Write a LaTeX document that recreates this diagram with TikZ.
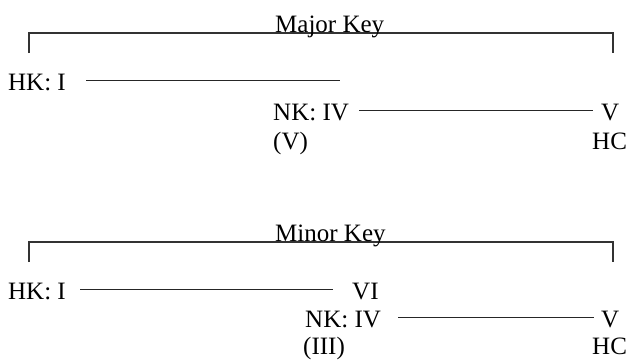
\documentclass[tikz,border=0pt]{standalone}
\usepackage{fontspec}
\setmainfont{Liberation Serif}
\usepackage{tikz}
\newcommand{\lift}{9.5pt}
\newcommand{\ticklen}{20}

\begin{document}
\begin{tikzpicture}[x=1pt,y=-1pt,
        lbl/.style={font=\fontsize{25}{30}\selectfont, inner sep=0pt, anchor=base west},
        bar/.style={line width=1.2pt, black!85},
        brk/.style={line width=1.6pt, black!80}]
    \useasboundingbox (0,0) rectangle (628,360);
    % major key
    \coordinate (mjl) at (29,53);
    \coordinate (mjr) at (613,53);
    \draw[brk] (mjl) -- ++(0,-\ticklen) -| (mjr);
    \node[lbl] (mjkey) at (275,32) {Major Key};
    \node[lbl] (hkA) at (8,90) {HK: I};
    \coordinate (endA) at (340,90);
    \node[lbl] (nkA) at (273,120) {NK: IV};
    \node[lbl] (vA) at (601,120) {V};
    \node[lbl] (pvA) at (273,149) {(V)};
    \node[lbl] (hcA) at (592,149) {HC};
    \draw[bar] ([xshift=20pt,yshift=\lift]hkA.base east) -- ([yshift=\lift]endA);
    \draw[bar] ([xshift=10pt,yshift=\lift]nkA.base east) -- ([xshift=-8pt,yshift=\lift]vA.base west);
    % minor key
    \coordinate (mnl) at (29,262);
    \coordinate (mnr) at (613,262);
    \draw[brk] (mnl) -- ++(0,-\ticklen) -| (mnr);
    \node[lbl] (mnkey) at (275,241) {Minor Key};
    \node[lbl] (hkB) at (8,299) {HK: I};
    \node[lbl] (viB) at (352,299) {VI};
    \node[lbl] (nkB) at (305,327) {NK: IV};
    \node[lbl] (vB) at (601,327) {V};
    \node[lbl] (pvB) at (303,354) {(III)};
    \node[lbl] (hcB) at (592,354) {HC};
    \draw[bar] ([xshift=14pt,yshift=\lift]hkB.base east) -- ([xshift=-19pt,yshift=\lift]viB.base west);
    \draw[bar] ([xshift=17pt,yshift=\lift]nkB.base east) -- ([xshift=-7pt,yshift=\lift]vB.base west);
\end{tikzpicture}
\end{document}
